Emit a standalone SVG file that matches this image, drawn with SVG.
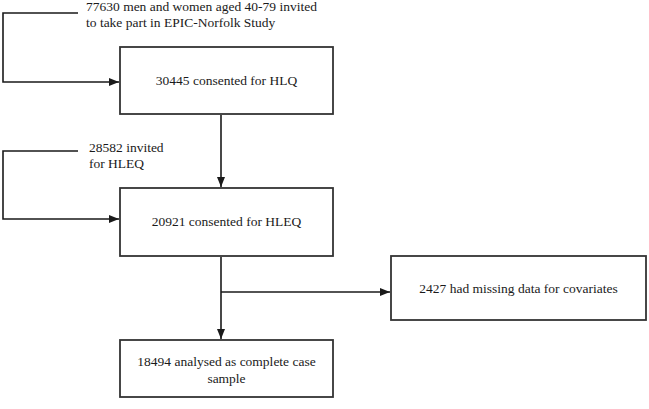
<svg xmlns="http://www.w3.org/2000/svg" width="649" height="409" viewBox="0 0 649 409">
<defs>
<marker id="arr" markerUnits="userSpaceOnUse" markerWidth="10" markerHeight="10" viewBox="0 0 10 10" refX="10" refY="5" orient="auto">
<path d="M0,1 L10,5 L0,9 Z" fill="#1a1a1a"/>
</marker>
<style>
.box{fill:#fff;stroke:#333;stroke-width:1.8}
.ln{fill:none;stroke:#1a1a1a;stroke-width:1.6}
.t{font-size:13.5px;fill:#1a1a1a}
.c{text-anchor:middle}
</style>
</defs>
<rect width="649" height="409" fill="#fff"/>
<g id="connectors">
<path class="ln" d="M78,13 H3 V82 H119" marker-end="url(#arr)"/>
<path class="ln" d="M78,151 H3 V219 H119" marker-end="url(#arr)"/>
<path class="ln" d="M221,115 V187" marker-end="url(#arr)"/>
<path class="ln" d="M221,257 V339" marker-end="url(#arr)"/>
<path class="ln" d="M221,292 H390" marker-end="url(#arr)"/>
</g>
<g font-family="'Liberation Serif', 'Times New Roman', 'DejaVu Serif', serif">
<g id="invited1">
<text class="t" x="86" y="11">77630 men and women aged 40-79 invited</text>
<text class="t" x="86" y="27">to take part in EPIC-Norfolk Study</text>
</g>
<g id="invited2">
<text class="t" x="89" y="152">28582 invited</text>
<text class="t" x="89" y="168">for HLEQ</text>
</g>
<g id="hlq">
<rect class="box" x="120" y="47" width="213" height="67"/>
<text class="t c" x="226.5" y="85">30445 consented for HLQ</text>
</g>
<g id="hleq">
<rect class="box" x="120" y="188" width="213" height="68"/>
<text class="t c" x="226.5" y="226">20921 consented for HLEQ</text>
</g>
<g id="missing">
<rect class="box" x="391" y="256" width="255" height="64"/>
<text class="t c" x="518.5" y="293">2427 had missing data for covariates</text>
</g>
<g id="analysed">
<rect class="box" x="120" y="340" width="213" height="57"/>
<text class="t c" x="226.5" y="366">18494 analysed as complete case</text>
<text class="t c" x="226.5" y="383">sample</text>
</g>
</g>
</svg>
